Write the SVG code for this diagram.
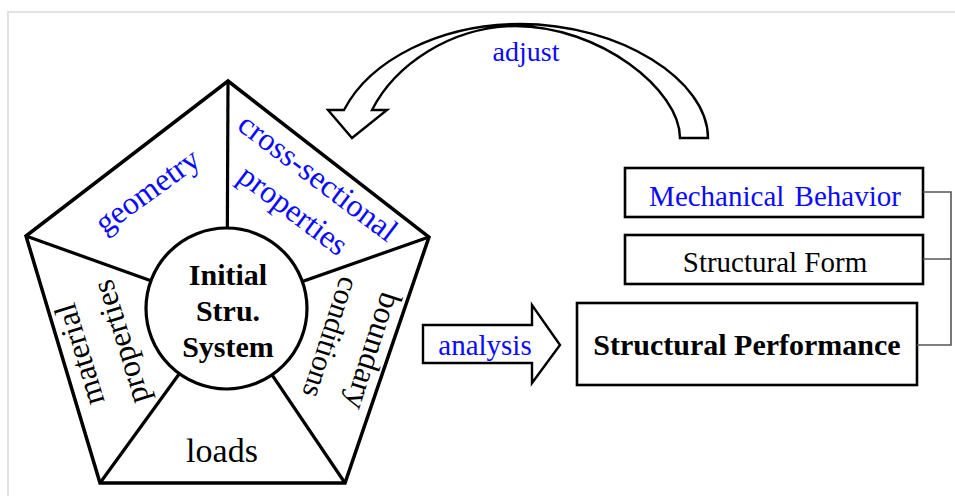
<svg xmlns="http://www.w3.org/2000/svg" width="955" height="496" viewBox="0 0 955 496">
  <style>
    .t { font-family: "Liberation Serif", "Times New Roman", serif; fill: #000; }
    .blue { fill: #0a0aff; }
    .b { font-weight: bold; }
    .pent { fill: #fff; stroke: #000; stroke-width: 3.5; stroke-linejoin: miter; }
    .spoke { stroke: #000; stroke-width: 3.2; }
    .box { fill: #fff; stroke: #000; stroke-width: 2.6; }
    .blk { fill: #fff; stroke: #000; stroke-width: 2.4; stroke-linejoin: miter; }
    .tie { fill: none; stroke: #555; stroke-width: 1.6; }
    .frame { fill: none; stroke: #d9d9d9; stroke-width: 1.5; }
  </style>
  <rect width="955" height="496" fill="#fff"/>
  <path class="frame" d="M 8 496 L 8 12 L 955 12"/>

  <g id="pentagon">
    <polygon class="pent" points="228,81 429,237 345,483 100,483 26,236"/>
    <line class="spoke" x1="228" y1="81" x2="227" y2="308"/>
    <line class="spoke" x1="26" y1="236" x2="227" y2="308"/>
    <line class="spoke" x1="429" y1="237" x2="227" y2="308"/>
    <line class="spoke" x1="100" y1="483" x2="227" y2="308"/>
    <line class="spoke" x1="345" y1="483" x2="227" y2="308"/>
  </g>

  <g id="geometry">
    <text class="t blue" font-size="32" text-anchor="middle" transform="translate(148,192) rotate(-36)" y="9">geometry</text>
  </g>
  <g id="cross-sectional">
    <g transform="translate(305,194.5) rotate(37)">
      <text class="t blue" font-size="32" text-anchor="middle" y="-11">cross-sectional</text>
      <text class="t blue" font-size="32" text-anchor="middle" y="30">properties</text>
    </g>
  </g>
  <g id="material">
    <g transform="translate(101,348) rotate(-107)">
      <text class="t" font-size="32" text-anchor="middle" y="-12">material</text>
      <text class="t" font-size="32" text-anchor="middle" y="31">properties</text>
    </g>
  </g>
  <g id="boundary">
    <g transform="translate(351,344) rotate(108)">
      <text class="t" font-size="32" text-anchor="middle" y="-13">boundary</text>
      <text class="t" font-size="30" text-anchor="middle" y="31">conditions</text>
    </g>
  </g>
  <g id="loads">
    <text class="t" font-size="34" text-anchor="middle" x="222" y="462">loads</text>
  </g>

  <g id="initial-system">
    <circle cx="226.5" cy="308.5" r="80.5" fill="#fff" stroke="#000" stroke-width="3.2"/>
    <text class="t b" font-size="30" text-anchor="middle" x="228" y="285">Initial</text>
    <text class="t b" font-size="30" text-anchor="middle" x="228" y="321">Stru.</text>
    <text class="t b" font-size="30" text-anchor="middle" x="228" y="357">System</text>
  </g>

  <g id="mechanical-behavior">
    <rect class="box" x="625" y="168" width="298" height="49"/>
    <text class="t blue" font-size="29" text-anchor="middle" x="775" y="206" word-spacing="3">Mechanical Behavior</text>
  </g>
  <g id="structural-form">
    <rect class="box" x="625" y="235" width="298" height="49"/>
    <text class="t" font-size="29" text-anchor="middle" x="775" y="272">Structural Form</text>
  </g>
  <g id="structural-performance">
    <rect class="box" x="577" y="303" width="340" height="82"/>
    <text class="t b" font-size="30" text-anchor="middle" x="747" y="355">Structural Performance</text>
  </g>

  <g id="connectors">
    <path class="tie" d="M 923 192 L 951 192 L 951 345 L 917 345 M 923 259 L 951 259"/>
    <g id="adjust-arrow">
      <path class="blk" d="M 708 138 C 708 80, 620 24, 520 24 C 440 24, 370 60, 344 110 L 328 110 L 352 138 L 387 110 L 372 110 C 395 65, 450 27, 515 26 C 600 26, 680 90, 680 138 Z"/>
      <text class="t blue" font-size="28" text-anchor="middle" x="526" y="61">adjust</text>
    </g>
    <g id="analysis-arrow">
      <polygon class="blk" points="423,325 532,325 532,305 560,345 532,383 532,363 423,363"/>
      <text class="t blue" font-size="29" text-anchor="middle" x="485" y="355">analysis</text>
    </g>
  </g>
</svg>
